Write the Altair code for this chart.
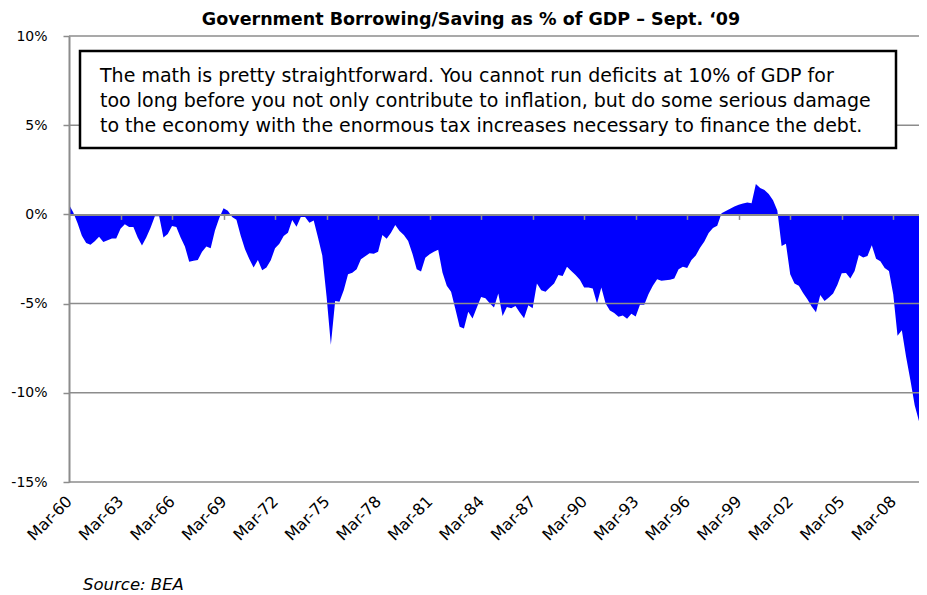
import altair as alt
import pandas as pd

# ---------------- data ----------------
months = ["Mar", "Jun", "Sep", "Dec"]
n_quarters = 199
quarters = [f"{months[i % 4]}-{(60 + i // 4) % 100:02d}" for i in range(n_quarters)]

values = [
    0.55, 0.1, -0.5, -1.2, -1.6, -1.7, -1.5, -1.25, -1.55, -1.45,
    -1.35, -1.35, -0.8, -0.55, -0.7, -0.7, -1.3, -1.75, -1.3, -0.75,
    -0.1, -0.1, -1.3, -1.1, -0.65, -0.7, -1.3, -1.8, -2.65, -2.6,
    -2.55, -2.1, -1.8, -1.9, -0.9, -0.2, 0.35, 0.2, -0.15, -0.3,
    -1.2, -1.96, -2.5, -2.98, -2.55, -3.13, -2.98, -2.57, -1.9, -1.64,
    -1.21, -1.03, -0.32, -0.69, -0.15, -0.15, -0.47, -0.34, -1.3, -2.3,
    -4.6, -7.3, -4.85, -4.9, -4.25, -3.36, -3.27, -3.08, -2.52, -2.35,
    -2.18, -2.2, -2.09, -1.16, -1.36, -1.03, -0.6, -0.93, -1.16, -1.49,
    -2.2, -3.08, -3.2, -2.43, -2.24, -2.09, -1.98, -3.26, -4.0, -4.33,
    -5.3, -6.3, -6.4, -5.45, -5.84, -5.22, -4.63, -4.7, -4.98, -5.22,
    -4.44, -5.7, -5.19, -5.26, -5.13, -5.5, -5.82, -5.09, -5.26, -3.88,
    -4.25, -4.33, -4.1, -3.88, -3.4, -3.45, -2.93, -3.17, -3.4, -3.66,
    -4.1, -4.1, -4.15, -5.0, -4.1, -5.0, -5.39, -5.52, -5.74, -5.67,
    -5.85, -5.57, -5.72, -5.07, -5.07, -4.46, -4.0, -3.63, -3.72, -3.69,
    -3.67, -3.59, -3.07, -2.94, -3.0, -2.56, -2.3, -1.87, -1.52, -1.04,
    -0.76, -0.63, 0.07, 0.19, 0.31, 0.44, 0.54, 0.61, 0.67, 0.63,
    1.7, 1.48, 1.37, 1.14, 0.8, 0.22, -1.77, -1.64, -3.35, -3.87,
    -4.0, -4.41, -4.75, -5.16, -5.49, -4.52, -4.86, -4.66, -4.43, -3.95,
    -3.3, -3.28, -3.6, -3.17, -2.27, -2.42, -2.33, -1.73, -2.48, -2.63,
    -3.0, -3.17, -4.47, -6.8, -6.5, -8.0, -9.3, -10.7, -11.6,
]

tick_positions = list(range(0, n_quarters, 12))
tick_labels = [quarters[i] for i in tick_positions]
y_ticks = [-15, -10, -5, 0, 5, 10]
grid_values = [-15, -10, -5, 5, 10]

title_text = "Government Borrowing/Saving as % of GDP \u2013 Sept. \u201809"
note_lines = [
    "The math is pretty straightforward. You cannot run deficits at 10% of GDP for",
    "too long before you not only contribute to inflation, but do some serious damage",
    "to the economy with the enormous tax increases necessary to finance the debt.",
]
source_text = "Source: BEA"

# ---------------- styling ----------------
W, H = 850, 446
FONT = "DejaVu Sans"
GRAY = "#8c8c8c"
zero_px = H * 10 / 25

df = pd.DataFrame({"idx": list(range(n_quarters)), "quarter": quarters, "value": values})

label_expr = "[" + ",".join(f"'{t}'" for t in tick_labels) + "][round(datum.value / 12)]"

x_axis = alt.Axis(
    values=tick_positions, labelExpr=label_expr, title=None, orient="bottom",
    offset=-(H - zero_px),
    domain=True, domainColor=GRAY, domainWidth=2,
    ticks=True, tickColor=GRAY, tickSize=5, tickWidth=1.5,
    labelAngle=-45, labelAlign="right", labelBaseline="middle",
    labelPadding=279, labelFontSize=16, labelFont=FONT, labelColor="black",
    labelOverlap=False, labelFlush=False, grid=False, zindex=1,
)
x_enc = alt.X("idx:Q", scale=alt.Scale(domain=[0, n_quarters - 1], nice=False, zero=False),
              axis=x_axis)

y_axis = alt.Axis(
    values=y_ticks, labelExpr="datum.value + '%'", title=None, grid=False,
    domain=True, domainColor=GRAY, domainWidth=2,
    ticks=True, tickSize=6, tickColor=GRAY, tickWidth=1.5,
    labelPadding=16, labelFontSize=14, labelFont=FONT, labelColor="black",
    labelOverlap=False, labelFlush=False, zindex=1,
)
y_scale = alt.Scale(domain=[-15, 10], nice=False, zero=False)

area = alt.Chart(df).mark_area(color="#0000ff", interpolate="linear").encode(
    x=x_enc,
    y=alt.Y("value:Q", scale=y_scale, axis=y_axis),
    y2=alt.datum(0),
)

grid = alt.Chart(pd.DataFrame({"value": grid_values})).mark_rule(
    color=GRAY, strokeWidth=1.5
).encode(y=alt.Y("value:Q", scale=y_scale, axis=y_axis))

box = alt.Chart(pd.DataFrame({"a": [0]})).mark_rect(
    fill="white", stroke="black", strokeWidth=2.5
).encode(x=alt.value(11), x2=alt.value(827), y=alt.value(15), y2=alt.value(112))

note = alt.Chart(pd.DataFrame({"t": ["\n".join(note_lines)]})).mark_text(
    align="left", baseline="middle", lineBreak="\n", lineHeight=25,
    fontSize=19, font=FONT, color="black"
).encode(x=alt.value(31), y=alt.value(40), text="t:N")

title = alt.Chart(pd.DataFrame({"t": [title_text]})).mark_text(
    align="center", baseline="alphabetic", fontSize=17.5, fontWeight="bold",
    font=FONT, color="black"
).encode(x=alt.value(402), y=alt.value(-11), text="t:N")

source = alt.Chart(pd.DataFrame({"t": [source_text]})).mark_text(
    align="left", baseline="alphabetic", fontSize=16.5, fontStyle="italic",
    font=FONT, color="black"
).encode(x=alt.value(14), y=alt.value(554), text="t:N")

chart = alt.layer(area, grid, box, note, title, source).properties(
    width=W, height=H,
    autosize=alt.AutoSizeParams(type="none"),
    padding={"left": 61, "top": 28, "right": 0, "bottom": 113},
    background="white",
).configure_view(stroke=None)

chart.save("out.html", embed_options={"renderer": "svg", "actions": False})
